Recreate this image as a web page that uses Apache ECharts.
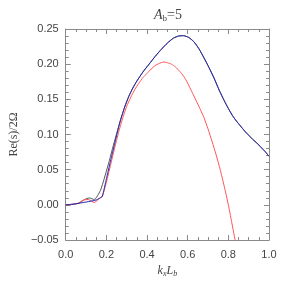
<!DOCTYPE html>
<html><head><meta charset="utf-8">
<script src="https://cdn.jsdelivr.net/npm/echarts@6/dist/echarts.min.js"></script>
<style>html,body{margin:0;padding:0;background:#fff}#c{width:283px;height:283px}</style>
</head><body><div id="c"></div>
<script>
// k_x L_b values and growth rates Re(s)/2Omega
var kBlack = [0.00,0.04,0.07,0.093,0.116,0.14,0.17,0.19,0.21,0.23,0.25,0.27,0.29,0.31,0.33,0.35,0.38,0.41,0.44,0.47,0.50,0.53,0.555,0.58,0.605,0.63,0.655,0.68,0.705,0.73,0.755,0.78,0.80,0.82,0.84,0.86,0.88,0.90,0.92,0.94,0.96,0.98,1.00];
var vBlack = [0.000,0.001,0.003,0.0076,0.0098,0.0076,0.020,0.038,0.058,0.080,0.101,0.121,0.139,0.154,0.166,0.176,0.189,0.200,0.211,0.221,0.230,0.237,0.240,0.2405,0.238,0.232,0.222,0.209,0.195,0.180,0.163,0.148,0.137,0.127,0.119,0.112,0.105,0.099,0.093,0.088,0.082,0.076,0.069];

var kRed = [0.00,0.04,0.06,0.085,0.11,0.14,0.17,0.18,0.20,0.22,0.24,0.26,0.28,0.30,0.32,0.34,0.36,0.38,0.40,0.42,0.44,0.46,0.48,0.50,0.52,0.54,0.56,0.58,0.60,0.62,0.64,0.66,0.68,0.70,0.72,0.74,0.76,0.78,0.80,0.82,0.84,0.86];
var vRed = [0.000,0.001,0.002,0.0066,0.0076,0.0034,0.010,0.012,0.032,0.056,0.080,0.103,0.123,0.140,0.153,0.164,0.173,0.181,0.187,0.193,0.198,0.201,0.203,0.202,0.200,0.196,0.190,0.183,0.173,0.161,0.149,0.137,0.124,0.108,0.090,0.071,0.050,0.026,0.000,-0.030,-0.060,-0.090];

var kBlue = [0.00,0.04,0.08,0.12,0.15,0.17,0.18,0.20,0.22,0.24,0.26,0.27,0.29,0.31,0.33,0.35,0.38,0.41,0.44,0.47,0.50,0.53,0.555,0.58,0.605,0.63,0.655,0.68,0.705,0.73,0.755,0.78,0.80,0.82,0.84,0.86,0.88,0.90,0.92,0.94,0.96,0.98,1.00];
var vBlue = [0.000,0.001,0.003,0.005,0.007,0.010,0.012,0.037,0.062,0.086,0.110,0.121,0.139,0.154,0.166,0.176,0.189,0.200,0.211,0.221,0.230,0.237,0.240,0.2405,0.238,0.232,0.222,0.209,0.195,0.180,0.163,0.148,0.137,0.127,0.119,0.112,0.105,0.099,0.093,0.088,0.082,0.076,0.069];

var xTicks = [0.0,0.2,0.4,0.6,0.8,1.0];
var yTicks = [-0.05,0.00,0.05,0.10,0.15,0.20,0.25];

function pairs(k, v){ return k.map(function(x,i){ return [x, v[i]]; }); }

var chart = echarts.init(document.getElementById('c'), null, {renderer:'canvas'});
var frame = '#8a8a8a';
var tickCommon = {
  axisLine:{show:true, onZero:false, lineStyle:{color:frame, width:1}},
  axisTick:{show:true, inside:true, length:5, lineStyle:{color:frame}},
  splitLine:{show:false}
};
function ax(o){ return Object.assign({}, JSON.parse(JSON.stringify(tickCommon)), o); }
var serif = 'Liberation Serif';
var sans = 'Liberation Sans';

chart.setOption({
  animation:false,
  backgroundColor:'#fff',
  grid:{left:57, right:14, top:29, bottom:43},
  title:{
    text:'{i|A}{s|b}{n|=5}',
    left:163, top:3, textAlign:'center',
    textStyle:{fontWeight:'normal', rich:{
      i:{fontFamily:serif, fontStyle:'italic', fontWeight:'normal', fontSize:14, color:'#444'},
      s:{fontFamily:serif, fontWeight:'normal', fontSize:9, color:'#444', verticalAlign:'bottom', padding:[6,0,0,0]},
      n:{fontFamily:serif, fontWeight:'normal', fontSize:14, color:'#444'}
    }}
  },
  xAxis:[
    ax({type:'value', min:0, max:1, interval:0.2, position:'bottom',
      minorTick:{show:true, splitNumber:4, length:3, lineStyle:{color:frame}},
      axisLabel:{show:true, margin:9, color:'#444', fontFamily:sans, fontSize:11,
        formatter:function(v){ return v.toFixed(1); }},
      name:'{i|k}{s|x}{i|L}{s|b}', nameLocation:'middle', nameGap:21,
      nameTextStyle:{rich:{
        i:{fontFamily:serif, fontStyle:'italic', fontSize:12, color:'#444'},
        s:{fontFamily:serif, fontStyle:'italic', fontSize:8, color:'#444', verticalAlign:'bottom', padding:[5,0,0,0]}
      }}
    }),
    ax({type:'value', min:0, max:1, interval:0.2, position:'top',
      minorTick:{show:true, splitNumber:4, length:3, lineStyle:{color:frame}},
      axisLabel:{show:false}})
  ],
  yAxis:[
    ax({type:'value', min:-0.05, max:0.25, interval:0.05, position:'left',
      minorTick:{show:true, splitNumber:5, length:3, lineStyle:{color:frame}},
      axisLabel:{show:true, margin:7, color:'#444', fontFamily:sans, fontSize:11,
        formatter:function(v){ return v.toFixed(2).replace('-', '\u2212'); }},
      name:'Re(s)/2\u03A9', nameLocation:'middle', nameGap:41, nameRotate:90,
      nameTextStyle:{fontFamily:serif, fontSize:12, color:'#444'}
    }),
    ax({type:'value', min:-0.05, max:0.25, interval:0.05, position:'right',
      minorTick:{show:true, splitNumber:5, length:3, lineStyle:{color:frame}},
      axisLabel:{show:false}})
  ],
  series:[
    {type:'line', data:pairs(kBlack, vBlack), showSymbol:false, symbol:'none', clip:true, smooth:0.2,
      lineStyle:{color:'#555555', width:1}, z:2},
    {type:'line', data:pairs(kRed, vRed), showSymbol:false, symbol:'none', clip:true, smooth:0.2,
      lineStyle:{color:'#ff5555', width:1}, z:3},
    {type:'line', data:pairs(kBlue, vBlue), showSymbol:false, symbol:'none', clip:true, smooth:0.2,
      lineStyle:{color:'#2828b0', width:1}, z:4}
  ]
});
</script></body></html>
